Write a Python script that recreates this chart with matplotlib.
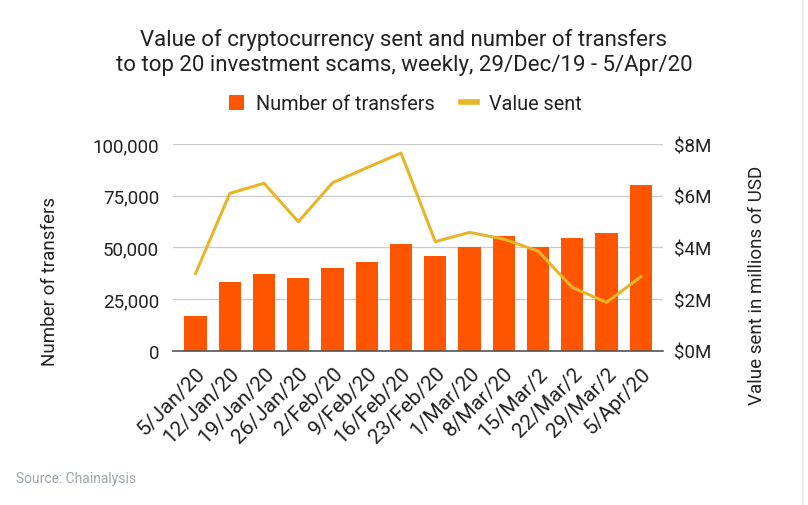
import matplotlib
matplotlib.use("Agg")
import matplotlib.pyplot as plt
from matplotlib.lines import Line2D
from matplotlib.patches import Patch
from matplotlib.ticker import FuncFormatter
import numpy as np

plt.rcParams['font.family'] = ['Roboto', 'DejaVu Sans']

weeks = ["5/Jan/20", "12/Jan/20", "19/Jan/20", "26/Jan/20", "2/Feb/20", "9/Feb/20",
         "16/Feb/20", "23/Feb/20", "1/Mar/20", "8/Mar/20", "15/Mar/2", "22/Mar/2",
         "29/Mar/2", "5/Apr/20"]
transfers = [17000, 33200, 36900, 35000, 39800, 42900, 51400, 46000, 50200, 55600,
             50200, 54500, 56900, 80300]
value_sent_musd = [2.99, 6.09, 6.48, 4.99, 6.50, 7.08, 7.65, 4.22, 4.58, 4.32,
                   3.86, 2.45, 1.87, 2.86]

bar_color = "#FF5500"
line_color = "#E8B428"
text_color = "#222222"
grid_color = "#CCCCCC"

fig = plt.figure(figsize=(8.08, 5.06), dpi=100)
ax = fig.add_axes([173/808, 1-351.7/506, (663-173)/808, (351.7-145)/506])
ax2 = ax.twinx()

x = np.arange(len(weeks))
ax.bar(x, transfers, width=0.65, color=bar_color, zorder=2)
ax2.plot(x, value_sent_musd, color=line_color, lw=2.2, zorder=3)

ax.set_xlim(-0.66, 13.65)
ax.set_ylim(0, 100000)
ax2.set_ylim(0, 8)
ax.set_yticks([0, 25000, 50000, 75000, 100000])
ax2.set_yticks([0, 2, 4, 6, 8])
ax.yaxis.set_major_formatter(FuncFormatter(lambda v, p: f"{int(v):,}"))
ax2.yaxis.set_major_formatter(FuncFormatter(lambda v, p: f"${int(v)}M"))

ax.grid(axis='y', color=grid_color, lw=1, zorder=0)
ax.set_axisbelow(True)
ax.set_xticks(x)
ax.set_xticklabels(weeks, rotation=45, ha='right', rotation_mode='anchor',
                   fontsize=15, color=text_color)
for a in (ax, ax2):
    for s in a.spines.values():
        s.set_visible(False)
ax.spines['bottom'].set_visible(True)
ax.spines['bottom'].set_color("#555555")
ax.spines['bottom'].set_linewidth(1.2)
ax.tick_params(axis='x', length=0, pad=9)
ax.tick_params(axis='y', length=0, pad=10, labelsize=13.5, labelcolor=text_color)
ax2.tick_params(axis='y', length=0, pad=8, labelsize=13.5, labelcolor=text_color)

fig.text(50/808, 1-281/506, "Number of transfers", rotation=90, ha='center', va='center',
         fontsize=13.5, color=text_color)
fig.text(757/808, 1-285/506, "Value sent in millions of USD", rotation=90, ha='center',
         va='center', fontsize=13.5, color=text_color)

fig.text(0.5, 1-40/506, "Value of cryptocurrency sent and number of transfers",
         ha='center', va='center', fontsize=16, color=text_color)
fig.text(0.5, 1-66/506, "to top 20 investment scams, weekly, 29/Dec/19 - 5/Apr/20",
         ha='center', va='center', fontsize=16, color=text_color)

handles = [Patch(facecolor=bar_color, edgecolor='none'),
           Line2D([0], [0], color=line_color, lw=4)]
leg = fig.legend(handles, ["Number of transfers", "Value sent"], loc='center',
                 bbox_to_anchor=(405/808, 1-105/506), ncol=2, frameon=False,
                 fontsize=14.3, handlelength=0.8, handleheight=0.8, handletextpad=0.6,
                 columnspacing=1.3)
for t in leg.get_texts():
    t.set_color(text_color)

fig.text(16/808, 1-479/506, "Source: Chainalysis", ha='left', va='center',
         fontsize=10, color="#A0A6AE")

fig.add_artist(Line2D([803/808, 803/808], [0, 1], color="#EEEEEE", lw=1.5,
                      transform=fig.transFigure))

fig.savefig("out.png", dpi=100, facecolor='white')
